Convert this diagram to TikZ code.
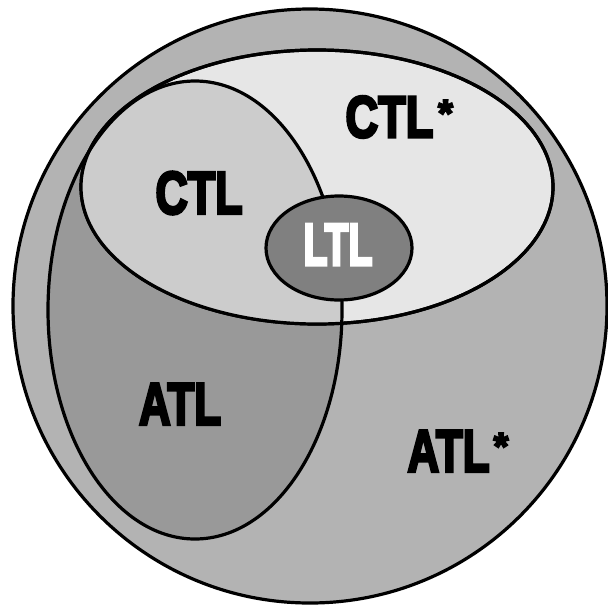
\documentclass[tikz,border=0pt]{standalone}
\usepackage{fontspec}
\usepackage{graphicx}
\newfontfamily\lblfont[FakeBold=5]{Liberation Sans Bold}
\definecolor{cOuter}{HTML}{B3B3B3}
\definecolor{cATL}{HTML}{999999}
\definecolor{cCTLs}{HTML}{E6E6E6}
\definecolor{cCTL}{HTML}{CCCCCC}
\definecolor{cLTL}{HTML}{808080}
\begin{document}
\begin{tikzpicture}[x=1pt,y=-1pt,line width=3.2pt,
  lbl/.style={inner sep=0pt,font=\lblfont\fontsize{60}{60}\selectfont},
  starlbl/.style={inner sep=0pt,anchor=north,font=\lblfont\fontsize{38}{38}\selectfont}]
\useasboundingbox (0,0) rectangle (608,606);
% outer circle ATL*
\filldraw[fill=cOuter] (310,306) circle[radius=297];
% ATL ellipse
\filldraw[fill=cATL] (195,310) ellipse[x radius=147, y radius=229];
% CTL* ellipse
\filldraw[fill=cCTLs] (317,187) ellipse[x radius=236, y radius=137];
% CTL = ATL inside CTL*
\begin{scope}
  \clip (317,187) ellipse[x radius=236, y radius=137];
  \filldraw[fill=cCTL] (195,310) ellipse[x radius=147, y radius=229];
\end{scope}
\draw (317,187) ellipse[x radius=236, y radius=137];
% LTL
\filldraw[fill=cLTL] (339,248) ellipse[x radius=73, y radius=52];
% labels
\node[lbl] (ctlstar) at (389.5,117) {\resizebox{88pt}{41pt}{CTL}};
\node[starlbl] (ctlstarmark) at (445.5,98.5) {*};
\node[lbl] (ctl) at (199,193) {\resizebox{87pt}{42pt}{CTL}};
\node[lbl,text=white] (ltl) at (338,244.5) {\resizebox{69pt}{41pt}{LTL}};
\node[lbl] (atl) at (180,404) {\resizebox{82pt}{41pt}{ATL}};
\node[lbl] (atlstar) at (448.5,451) {\resizebox{82pt}{41pt}{ATL}};
\node[starlbl] (atlstarmark) at (501,431.5) {*};
\end{tikzpicture}
\end{document}
